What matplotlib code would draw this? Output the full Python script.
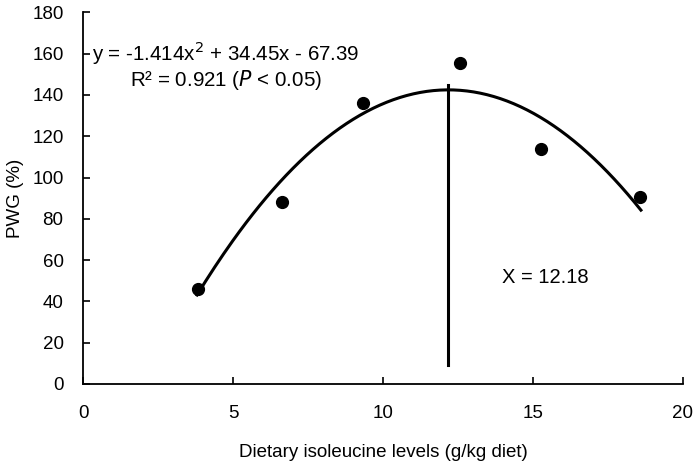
import numpy as np
import matplotlib
matplotlib.use('Agg')
import matplotlib.pyplot as plt

plt.rcParams['font.family'] = ['Liberation Sans', 'DejaVu Sans']

# observed means
iso_levels = [3.82, 6.62, 9.34, 12.57, 15.26, 18.57]
pwg = [46.0, 88.0, 136.2, 155.6, 113.8, 90.7]

# quadratic fit shown on the chart: y = a x^2 + b x + c
fit_coef = [-1.414, 34.45, -67.39]
fit_range = (3.8, 18.6)
x_opt = 12.18
vline_y = (9.2, 144.8)

xticks = [0, 5, 10, 15, 20]
yticks = [0, 20, 40, 60, 80, 100, 120, 140, 160, 180]

fs = 13.5

fig = plt.figure(figsize=(7, 4.68), dpi=100)
ax = fig.add_axes([0.1186, 0.1795, 0.857, 0.7942])

xs = np.linspace(fit_range[0], fit_range[1], 200)
ax.plot(xs, np.polyval(fit_coef, xs), color='black', lw=2.2, zorder=2)
ax.plot(iso_levels, pwg, 'o', color='black', markersize=8.5, zorder=3)
ax.plot([x_opt, x_opt], vline_y, color='black', lw=2.2, zorder=2)

ax.text(4.77, 160, 'y = -1.414x$^2$ + 34.45x - 67.39', ha='center', va='center', fontsize=14.8)
ax.text(4.77, 147, 'R² = 0.921 ($\\it{P}$ < 0.05)', ha='center', va='center', fontsize=14.8)
ax.text(13.96, 51.5, 'X = 12.18', ha='left', va='center', fontsize=14.5)

ax.set_xlim(0, 20)
ax.set_ylim(0, 180)
ax.set_xticks(xticks)
ax.set_yticks(yticks)
ax.tick_params(direction='in', length=5, width=1.2, labelsize=fs)
ax.tick_params(axis='y', pad=14)
ax.tick_params(axis='x', pad=15)
for s in ['top', 'right']:
    ax.spines[s].set_visible(False)
for s in ['left', 'bottom']:
    ax.spines[s].set_linewidth(1.3)

ax.set_xlabel('Dietary isoleucine levels (g/kg diet)', fontsize=fs, labelpad=16)
ax.set_ylabel('PWG (%)', fontsize=fs, labelpad=6)

fig.savefig('out.png', dpi=100)
